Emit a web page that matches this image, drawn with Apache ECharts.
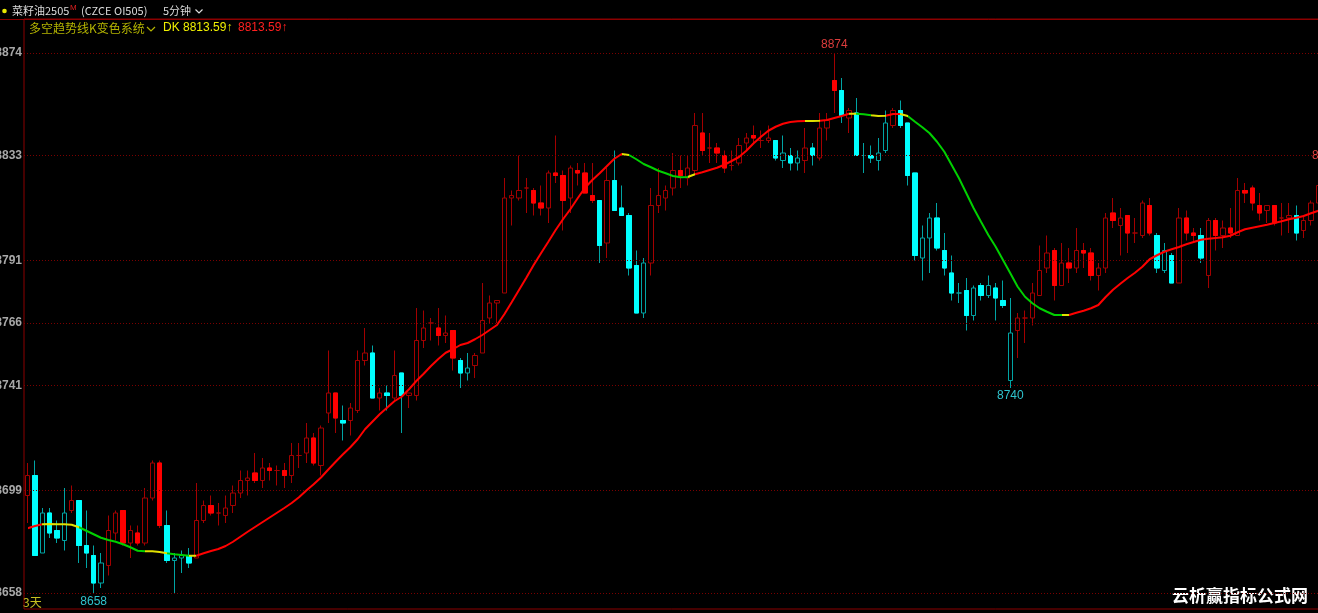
<!DOCTYPE html>
<html><head><meta charset="utf-8">
<script src="https://cdn.jsdelivr.net/npm/echarts/dist/echarts.min.js"></script>
<style>html,body{margin:0;padding:0;background:#000;}#c{width:1318px;height:613px;}</style>
</head><body><div id="c"></div>
<script>
// ---- data (5-minute bars) ----
const opens = [
8697,8705,8674,8690,8683,8679,8691,8695,8677,8673,
8662,8669,8682,8691,8678,8682,8678,8696,8710,8685,
8671,8672,8673,8672,8687,8693,8690,8689,8693,8698,
8703,8706,8703,8708,8707,8707,8705,8713,8714,8720,
8709,8730,8738,8727,8727,8731,8751,8754,8736,8738,
8736,8746,8737,8737,8759,8766,8764,8761,8763,8751,
8746,8749,8754,8768,8774,8778,8816,8816,8820,8819,
8814,8812,8826,8825,8816,8827,8826,8817,8815,8798,
8823,8812,8809,8789,8770,8790,8813,8816,8820,8827,
8824,8827,8842,8836,8836,8833,8829,8830,8838,8841,
8839,8839,8839,8831,8833,8830,8831,8836,8832,8844,
8863,8859,8848,8850,8833,8833,8831,8835,8845,8851,
8846,8826,8792,8800,8808,8795,8786,8778,8779,8769,
8781,8777,8780,8775,8743,8763,8768,8768,8777,8788,
8795,8781,8790,8788,8795,8794,8785,8788,8810,8805,
8809,8802,8801,8813,8801,8787,8793,8782,8808,8802,
8801,8785,8807,8801,8804,8801,8819,8820,8813,8811,
8813,8808,8808,8809,8803,8807,8814];
const closes = [
8705,8673,8690,8682,8680,8690,8695,8677,8674,8662,
8670,8683,8690,8678,8683,8678,8696,8710,8685,8671,
8672,8673,8670,8687,8693,8690,8690,8692,8698,8703,
8704,8703,8708,8707,8707,8705,8713,8713,8720,8710,
8724,8738,8728,8726,8732,8751,8754,8736,8738,8737,
8745,8737,8738,8759,8764,8766,8761,8762,8752,8746,
8748,8753,8767,8774,8775,8816,8817,8819,8820,8814,
8812,8826,8825,8815,8828,8826,8818,8815,8797,8823,
8811,8809,8788,8770,8790,8813,8817,8819,8827,8825,
8828,8845,8835,8836,8834,8828,8829,8837,8840,8840,
8839,8840,8832,8834,8830,8832,8836,8833,8844,8847,
8859,8849,8851,8833,8833,8832,8834,8846,8851,8845,
8825,8793,8800,8808,8796,8788,8778,8778,8769,8780,
8777,8781,8776,8773,8762,8768,8768,8778,8787,8794,
8781,8790,8788,8795,8794,8785,8788,8808,8807,8808,
8802,8802,8814,8802,8788,8795,8782,8808,8802,8801,
8792,8807,8801,8804,8802,8819,8818,8814,8810,8813,
8806,8808,8809,8802,8807,8814,8821];
const lows = [
8686,8673,8674,8680,8678,8675,8690,8670,8668,8658,
8660,8665,8679,8677,8672,8677,8677,8695,8684,8670,
8658,8666,8668,8672,8686,8689,8685,8686,8690,8696,
8697,8702,8700,8703,8701,8700,8702,8708,8710,8709,
8705,8726,8722,8719,8721,8730,8749,8736,8731,8731,
8735,8722,8732,8735,8756,8759,8757,8758,8747,8740,
8743,8744,8754,8766,8766,8778,8805,8815,8810,8809,
8809,8806,8822,8803,8810,8821,8818,8814,8790,8792,
8811,8809,8785,8770,8768,8785,8810,8811,8817,8820,
8821,8826,8833,8830,8830,8826,8827,8829,8835,8838,
8836,8838,8831,8828,8827,8827,8826,8829,8831,8839,
8850,8846,8842,8833,8826,8830,8827,8834,8844,8844,
8821,8791,8783,8786,8795,8785,8775,8774,8763,8767,
8775,8776,8767,8772,8740,8752,8758,8765,8777,8786,
8775,8781,8782,8786,8788,8783,8779,8786,8804,8793,
8794,8798,8800,8801,8786,8786,8782,8782,8799,8798,
8790,8780,8795,8796,8800,8801,8814,8811,8807,8806,
8805,8801,8802,8799,8800,8805,8813];
const highs = [
8710,8711,8692,8692,8687,8700,8701,8695,8691,8677,
8674,8689,8691,8691,8685,8685,8700,8711,8711,8691,
8674,8675,8676,8702,8695,8697,8694,8697,8701,8707,
8707,8714,8712,8710,8709,8710,8718,8718,8726,8722,
8725,8755,8738,8733,8734,8755,8764,8757,8740,8741,
8755,8746,8738,8772,8771,8768,8772,8769,8763,8752,
8754,8754,8782,8777,8775,8824,8819,8833,8824,8820,
8821,8827,8841,8827,8829,8830,8830,8830,8815,8828,
8835,8821,8810,8795,8792,8820,8828,8821,8834,8833,
8833,8850,8850,8842,8838,8835,8835,8840,8842,8845,
8843,8845,8839,8841,8836,8835,8844,8838,8850,8850,
8874,8864,8852,8856,8838,8837,8840,8851,8852,8855,
8846,8826,8805,8810,8814,8802,8793,8782,8784,8781,
8782,8785,8782,8783,8776,8770,8771,8782,8797,8801,
8796,8798,8796,8804,8798,8796,8790,8810,8816,8812,
8809,8808,8815,8816,8802,8798,8794,8812,8811,8804,
8804,8808,8808,8807,8812,8824,8822,8821,8818,8813,
8813,8814,8814,8813,8809,8815,8826];
// bar tone of the K-colour system: R = red family, C = cyan family
const candleTone = (
'RCCCCCRCCC'+'CRRRRRRRRC'+'CCCRRRRRRR'+'RRRRRRRRRR'+'RRRCRRRCRC'+
'RCRRRRRRRC'+'CRRRRRRRRR'+'RRRRRRRRCR'+'CCCCCRRRRR'+'RRRRRRRRRR'+
'RRCCCCRCRR'+'RCRCCCCCRC'+'CCCCCCCCCC'+'CCCCCRRRRR'+'RRRRRRRRRR'+
'RRRRCCCRRR'+'CRRRRRRRRR'+'RRRCRRR').split('');
// 多空趋势线 values
const trendLine = [
8683.9,8684.8,8685.5,8685.6,8685.5,8685.5,8685.3,8684.3,8682.9,8681.5,
8680.1,8679.2,8678.5,8677.5,8676.3,8674.9,8674.7,8674.7,8674.4,8673.9,
8673.5,8673.2,8672.9,8672.9,8673.9,8674.8,8675.6,8676.8,8678.5,8680.5,
8682.5,8684.4,8686.3,8688.2,8690.1,8692.0,8694.0,8696.3,8699.0,8701.5,
8704.2,8707.4,8710.5,8713.5,8716.3,8719.5,8723.5,8726.5,8729.5,8732.1,
8734.7,8736.5,8739.5,8742.8,8745.7,8748.8,8751.6,8754.1,8755.5,8757.2,
8758.0,8759.5,8761.2,8763.2,8765.2,8769.5,8774.3,8779.2,8784.1,8789.2,
8793.9,8798.5,8803.2,8807.5,8811.5,8815.9,8820.1,8823.2,8825.9,8828.8,
8831.7,8833.6,8833.2,8831.5,8829.6,8828.3,8826.9,8825.9,8824.8,8824.3,
8824.4,8825.5,8826.3,8827.2,8828.1,8829.3,8830.8,8832.4,8834.9,8837.9,
8840.5,8842.9,8844.5,8845.7,8846.4,8846.7,8846.8,8846.8,8846.9,8847.2,
8848.0,8848.8,8849.7,8849.7,8849.5,8849.1,8848.8,8848.9,8849.6,8849.6,
8848.8,8846.5,8844.3,8841.9,8838.5,8834.5,8829.2,8823.9,8817.9,8811.9,
8806.5,8801.2,8796.5,8791.2,8785.9,8780.5,8776.5,8773.9,8771.9,8770.5,
8769.2,8769.2,8769.2,8770.1,8770.9,8771.9,8773.2,8776.4,8779.3,8781.7,
8784.0,8786.1,8788.5,8791.5,8793.1,8794.5,8795.5,8796.4,8797.5,8798.4,
8799.3,8799.7,8800.0,8800.3,8800.9,8802.3,8803.5,8804.1,8804.7,8805.3,
8806.0,8806.7,8807.5,8808.1,8808.8,8809.9,8810.9];
// trend state of each line segment: R up, G down, Y turning
const trendState = (
'RRYYYYYGGG'+'GGGGGGYYYG'+'GGYRRRRRRR'+'RRRRRRRRRR'+'RRRRRRRRRR'+
'RRRRRRRRRR'+'RRRRRRRRRR'+'RRRRRRRRRR'+'RYGGGGGGGG'+'YRRRRRRRRR'+
'RRRRRRYYRR'+'RRYGGYYRRY'+'GGGGGGGGGG'+'GGGGGGGGGG'+'GYRRRRRRRR'+
'RRRRRRRRRR'+'RRRRRRRRRR'+'RRRRRRR').split('');
const yTicks = [8874, 8833, 8791, 8766, 8741, 8699, 8658];
const dkValue = '8813.59';

// ---- build ----
const N = opens.length;
const barIndex = opens.map((_, i) => String(i + 1));
const RED_DARK = '#A30000', RED = '#FF0000', CYAN = '#00FFFF', TEAL = '#00A4A4';
const baseData = [], bodyData = [];
for (let i = 0; i < N; i++) {
  const o = opens[i], c = closes[i], l = lows[i], h = highs[i];
  const red = candleTone[i] === 'R';
  const filled = c < o;
  const wick = red ? RED_DARK : TEAL;
  const fill = filled ? (red ? RED : CYAN) : '#000';
  baseData.push({ value: [o, c, l, h], itemStyle: { color: fill, color0: fill, borderColor: wick, borderColor0: wick } });
  const bc = filled ? (red ? RED : CYAN) : 'rgba(0,0,0,0)';
  bodyData.push({ value: [o, c, Math.min(o, c), Math.max(o, c)], itemStyle: { color: bc, color0: bc, borderColor: bc, borderColor0: bc } });
}
const stateColor = { R: '#FF0000', G: '#00D000', Y: '#E0E000' };
const pieces = [];
let s = 0;
for (let i = 1; i <= N; i++) {
  if (i === N || trendState[i] !== trendState[s]) {
    pieces.push({ gte: s, lt: i, color: stateColor[trendState[s]] });
    s = i;
  }
}
const maxHigh = Math.max(...highs), maxIdx = highs.indexOf(maxHigh);
const minLow = Math.min(...lows), minIdx = lows.indexOf(minLow);
const laterLows = lows.slice(maxIdx);
const low2 = Math.min(...laterLows), low2Idx = maxIdx + laterLows.indexOf(low2);
const lblFont = { fontSize: 12, fontFamily: 'Liberation Sans' };

const chart = echarts.init(document.getElementById('c'), null, { renderer: 'canvas' });
const option = {
  backgroundColor: '#000',
  animation: false,
  grid: { left: 24, right: -4, top: 19, bottom: 4, show: true, borderColor: '#8C0000', borderWidth: 1, outerBoundsMode: 'none' },
  xAxis: { type: 'category', data: barIndex, boundaryGap: true,
    axisLine: { show: false }, axisTick: { show: false }, axisLabel: { show: false }, splitLine: { show: false } },
  yAxis: { type: 'value', min: 8651.6, max: 8887.6, position: 'left',
    axisLine: { show: false }, axisTick: { show: false }, splitLine: { show: false },
    axisLabel: { customValues: yTicks, formatter: v => String(Math.round(v)), color: '#A8A8A8', fontSize: 12, fontWeight: 'bold', fontFamily: 'Liberation Sans', margin: 2 } },
  visualMap: { type: 'piecewise', show: false, dimension: 0, seriesIndex: 3, pieces: pieces },
  series: [
    { type: 'line', data: barIndex.map(() => '-'), symbol: 'none', silent: true, z: 1,
      markLine: { silent: true, symbol: ['none', 'none'], animation: false, label: { show: false },
        lineStyle: { color: '#7A0000', type: [1, 2], width: 1 }, emphasis: { disabled: true },
        data: yTicks.map(v => ({ yAxis: v })) } },
    { type: 'candlestick', data: baseData, barWidth: 5, z: 2, silent: true,
      markPoint: { symbol: 'circle', symbolSize: 0, silent: true, animation: false,
        itemStyle: { color: 'rgba(0,0,0,0)' },
        data: [
          { coord: [maxIdx, maxHigh], label: { show: true, formatter: String(maxHigh), position: 'top', distance: 2, color: '#DC3C3C', ...lblFont } },
          { coord: [minIdx, minLow], label: { show: true, formatter: String(minLow), position: 'bottom', distance: 3, color: '#2EC4CE', ...lblFont } },
          { coord: [low2Idx, low2], label: { show: true, formatter: String(low2), position: 'bottom', distance: 2, color: '#2EC4CE', ...lblFont } }
        ] } },
    { type: 'candlestick', data: bodyData, barWidth: 5, z: 3, silent: true },
    { type: 'line', data: trendLine, symbol: 'none', smooth: false, z: 5, silent: true, lineStyle: { width: 2 } }
  ]
};
chart.setOption(option);

const y8833 = chart.convertToPixel({ yAxisIndex: 0 }, 8833);
const cjk = '"Noto Sans CJK SC"';
chart.setOption({
  graphic: [
    { type: 'line', shape: { x1: 0, y1: 19.5, x2: 1318, y2: 19.5 }, style: { stroke: '#8C0000', lineWidth: 1 }, z: 10 },
    { type: 'circle', shape: { cx: 4.5, cy: 11, r: 2.3 }, style: { fill: '#E8E800' } },
    { type: 'text', x: 12, y: 11, style: { text: '菜籽油2505', fill: '#DCDCDC', font: '11px ' + cjk, verticalAlign: 'middle' } },
    { type: 'text', x: 70, y: 8, style: { text: 'M', fill: '#E02020', font: '8px "Liberation Sans"', verticalAlign: 'middle' } },
    { type: 'text', x: 81, y: 11, style: { text: '(CZCE OI505)', fill: '#DCDCDC', font: '11px ' + cjk, verticalAlign: 'middle' } },
    { type: 'text', x: 163, y: 11, style: { text: '5分钟', fill: '#DCDCDC', font: '11px ' + cjk, verticalAlign: 'middle' } },
    { type: 'polyline', shape: { points: [[195.5, 9.5], [199, 13], [202.5, 9.5]] }, style: { stroke: '#DCDCDC', lineWidth: 1.2, fill: null } },
    { type: 'text', x: 29, y: 28, style: { text: '多空趋势线K变色系统', fill: '#B4B400', font: '12px ' + cjk, verticalAlign: 'middle' } },
    { type: 'polyline', shape: { points: [[147, 27], [151, 31], [155, 27]] }, style: { stroke: '#B4B400', lineWidth: 1.2, fill: null } },
    { type: 'text', x: 163, y: 28, style: { text: 'DK ' + dkValue + '↑', fill: '#F0F000', font: '12px "Liberation Sans"', verticalAlign: 'middle' } },
    { type: 'text', x: 238, y: 28, style: { text: dkValue + '↑', fill: '#FF2020', font: '12px "Liberation Sans"', verticalAlign: 'middle' } },
    { type: 'text', x: 23, y: 602, style: { text: '3天', fill: '#C8C020', font: '12px ' + cjk, verticalAlign: 'middle' } },
    { type: 'text', x: 1312, y: y8833, style: { text: '8833', fill: '#E04040', font: '12px "Liberation Sans"', verticalAlign: 'middle' } },
    { type: 'text', x: 1172, y: 596, style: { text: '云析赢指标公式网', fill: '#FFFFFF', font: 'bold 17px ' + cjk, verticalAlign: 'middle' } }
  ]
});
</script></body></html>
